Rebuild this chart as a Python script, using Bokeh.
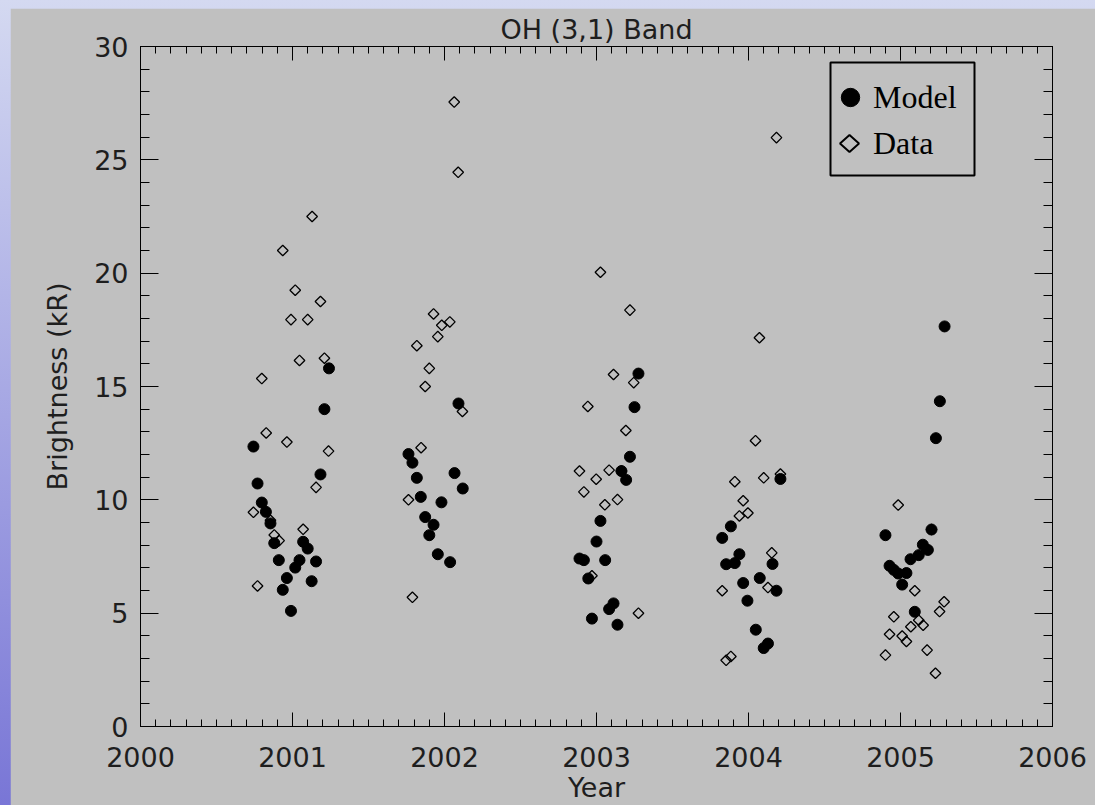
import numpy as np
from bokeh.plotting import figure
from bokeh.models import (FixedTicker, LinearAxis, Legend, LegendItem, Range1d,
                          BoxAnnotation, PolyAnnotation, CustomLabelingPolicy)
from bokeh.layouts import column
from bokeh.embed import file_html
from bokeh.resources import INLINE

# ---- data ----
model_year = [
    2000.743, 2000.770, 2000.798, 2000.825, 2000.855, 2000.880, 2000.910, 2000.936, 2000.963, 2000.990,
    2001.018, 2001.046, 2001.070, 2001.100, 2001.126, 2001.155, 2001.184, 2001.210, 2001.240,
    2001.763, 2001.789, 2001.818, 2001.844, 2001.873, 2001.900, 2001.928, 2001.956, 2001.980,
    2002.037, 2002.066, 2002.092, 2002.120,
    2002.888, 2002.917, 2002.946, 2002.970, 2003.000, 2003.026, 2003.057, 2003.083, 2003.112,
    2003.138, 2003.164, 2003.195, 2003.220, 2003.250, 2003.276,
    2003.827, 2003.853, 2003.884, 2003.910, 2003.940, 2003.965, 2003.993, 2004.048, 2004.074,
    2004.100, 2004.128, 2004.158, 2004.184, 2004.210,
    2004.901, 2004.928, 2004.956, 2004.985, 2005.011, 2005.039, 2005.066, 2005.094, 2005.120,
    2005.147, 2005.180, 2005.204, 2005.233, 2005.259, 2005.290,
]
model_brightness = [
    12.35, 10.72, 9.88, 9.47, 8.96, 8.09, 7.34, 6.03, 6.55, 5.10,
    7.01, 7.34, 8.15, 7.85, 6.41, 7.28, 11.12, 14.00, 15.80,
    12.02, 11.64, 10.97, 10.13, 9.24, 8.44, 8.90, 7.60, 9.89,
    7.25, 11.18, 14.25, 10.50,
    7.41, 7.34, 6.53, 4.76, 8.16, 9.07, 7.34, 5.18, 5.43,
    4.49, 11.27, 10.88, 11.90, 14.09, 15.57,
    8.32, 7.16, 8.83, 7.21, 7.60, 6.33, 5.55, 4.27, 6.55,
    3.46, 3.66, 7.17, 5.99, 10.92,
    8.44, 7.09, 6.91, 6.75, 6.26, 6.77, 7.38, 5.06, 7.56,
    8.02, 7.79, 8.69, 12.72, 14.35, 17.65,
]
data_year = [
    2000.743, 2000.770, 2000.798, 2000.827, 2000.855, 2000.880, 2000.912, 2000.936, 2000.963, 2000.990,
    2001.018, 2001.046, 2001.070, 2001.100, 2001.129, 2001.155, 2001.184, 2001.210, 2001.237,
    2001.763, 2001.789, 2001.818, 2001.846, 2001.873, 2001.900, 2001.928, 2001.956, 2001.982,
    2002.035, 2002.064, 2002.090, 2002.118,
    2002.888, 2002.917, 2002.943, 2002.970, 2002.998, 2003.026, 2003.055, 2003.083, 2003.112,
    2003.138, 2003.164, 2003.193, 2003.220, 2003.245, 2003.276,
    2003.827, 2003.853, 2003.884, 2003.910, 2003.940, 2003.965, 2003.996, 2004.046, 2004.072,
    2004.100, 2004.128, 2004.153, 2004.184, 2004.210,
    2004.901, 2004.928, 2004.956, 2004.985, 2005.011, 2005.039, 2005.068, 2005.094, 2005.120,
    2005.149, 2005.175, 2005.204, 2005.230, 2005.257, 2005.287,
]
data_brightness = [
    9.45, 6.20, 15.35, 12.95, 9.10, 8.45, 8.20, 21.00, 12.55, 17.95,
    19.25, 16.15, 8.70, 17.95, 22.50, 10.55, 18.75, 16.25, 12.15,
    10.00, 5.70, 16.80, 12.30, 15.00, 15.80, 18.20, 17.20, 17.70,
    17.85, 27.55, 24.45, 13.90,
    11.27, 10.35, 14.12, 6.65, 10.91, 20.04, 9.78, 11.31, 15.53,
    10.01, 11.27, 13.06, 18.37, 15.17, 5.00,
    5.99, 2.92, 3.09, 10.80, 9.29, 9.96, 9.42, 12.61, 17.15,
    10.97, 6.13, 7.66, 25.98, 11.14,
    3.15, 4.07, 4.84, 9.77, 3.99, 3.75, 4.40, 5.99, 4.69,
    4.47, 3.37, 8.69, 2.35, 5.07, 5.50,
]
x_ticks = [2000, 2001, 2002, 2003, 2004, 2005, 2006]
y_ticks = [0, 5, 10, 15, 20, 25, 30]

GRAY = "#c0c0c0"
INK = "#1e1e1e"
FONT = "DejaVu Sans"

p = figure(width=1085, height=797,
           x_range=Range1d(2000, 2006), y_range=Range1d(0, 30),
           output_backend="svg", toolbar_location=None,
           min_border_left=130, min_border_right=43,
           min_border_top=38, min_border_bottom=79,
           background_fill_color=GRAY, border_fill_color=GRAY,
           title="OH (3,1) Band",
           x_axis_label="Year", y_axis_label="Brightness (kR)")
p.margin = (8, 0, 0, 10)
p.xgrid.visible = False
p.ygrid.visible = False
p.outline_line_color = "black"

p.title.align = "center"
p.title.text_font = FONT
p.title.text_font_size = "27px"
p.title.text_font_style = "normal"
p.title.text_color = INK
p.title.standoff = 4

x_minor = list(np.round(np.arange(2000, 2006.001, 0.1), 3))
y_minor = list(range(0, 31))

no_labels = CustomLabelingPolicy(code="""
for (const i of Array.from(indices.ones())) { indices.unset(i) }
return indices
""")


def style_axis(ax, ticks, minor, major_len, minor_len, labels):
    ax.ticker = FixedTicker(ticks=ticks, minor_ticks=minor)
    ax.major_tick_in = major_len
    ax.major_tick_out = 0
    ax.minor_tick_in = minor_len
    ax.minor_tick_out = 0
    ax.axis_line_color = "black"
    ax.major_tick_line_color = "black"
    ax.minor_tick_line_color = "black"
    if labels:
        ax.major_label_text_font = FONT
        ax.major_label_text_font_size = "27px"
        ax.major_label_text_color = INK
        ax.axis_label_text_font = FONT
        ax.axis_label_text_font_size = "27px"
        ax.axis_label_text_font_style = "normal"
        ax.axis_label_text_color = INK
    else:
        ax.major_label_text_font_size = "0px"
        ax.major_label_standoff = 0
        ax.major_label_policy = no_labels


xb = p.xaxis[0]
yl = p.yaxis[0]
style_axis(xb, x_ticks, x_minor, 14, 7, True)
style_axis(yl, y_ticks, y_minor, 18, 9, True)
xb.major_label_standoff = 20
xb.axis_label_standoff = 2
yl.major_label_standoff = 12
yl.axis_label_standoff = 18

xt = LinearAxis()
style_axis(xt, x_ticks, x_minor, 14, 7, False)
p.add_layout(xt, "above")
yr = LinearAxis()
style_axis(yr, y_ticks, y_minor, 18, 9, False)
p.add_layout(yr, "right")

r_data = p.scatter(data_year, data_brightness, marker="square", size=7.5,
                   angle=np.pi / 4, fill_color=None, line_color="black", line_width=1.3)
r_model = p.scatter(model_year, model_brightness, marker="circle", size=11,
                    fill_color="black", line_color="black")
# invisible stand-in so the legend row "Data" gets its label; the diamond key is drawn below
r_data_key = p.scatter([], [], marker="circle", fill_alpha=0, line_alpha=0)

legend = Legend(items=[LegendItem(label="Model", renderers=[r_model]),
                       LegendItem(label="Data", renderers=[r_data_key])],
                location=(687, 560), orientation="vertical",
                border_line_alpha=0, background_fill_alpha=0,
                label_text_font="Liberation Serif", label_text_font_size="32px",
                label_text_color="black",
                glyph_width=46, glyph_height=46, label_height=46,
                label_standoff=0, spacing=0, padding=0, margin=0)
p.add_layout(legend, "center")

# legend frame and diamond key (canvas pixels)
p.add_layout(BoxAnnotation(left=820, right=964, top=54, bottom=167,
                           left_units="canvas", right_units="canvas",
                           top_units="canvas", bottom_units="canvas",
                           fill_alpha=0, line_color="black", line_width=2,
                           line_alpha=1))
p.add_layout(PolyAnnotation(xs=[829.5, 839, 848.5, 839], ys=[135, 126.5, 135, 143.5],
                            xs_units="canvas", ys_units="canvas",
                            fill_alpha=0, line_color="black", line_width=2,
                            line_alpha=1))

lay = column(p, styles={"background": "linear-gradient(to bottom, #d4d9f1 0%, #7976d6 100%)"})

open("out.html", "w").write(file_html(lay, INLINE))
